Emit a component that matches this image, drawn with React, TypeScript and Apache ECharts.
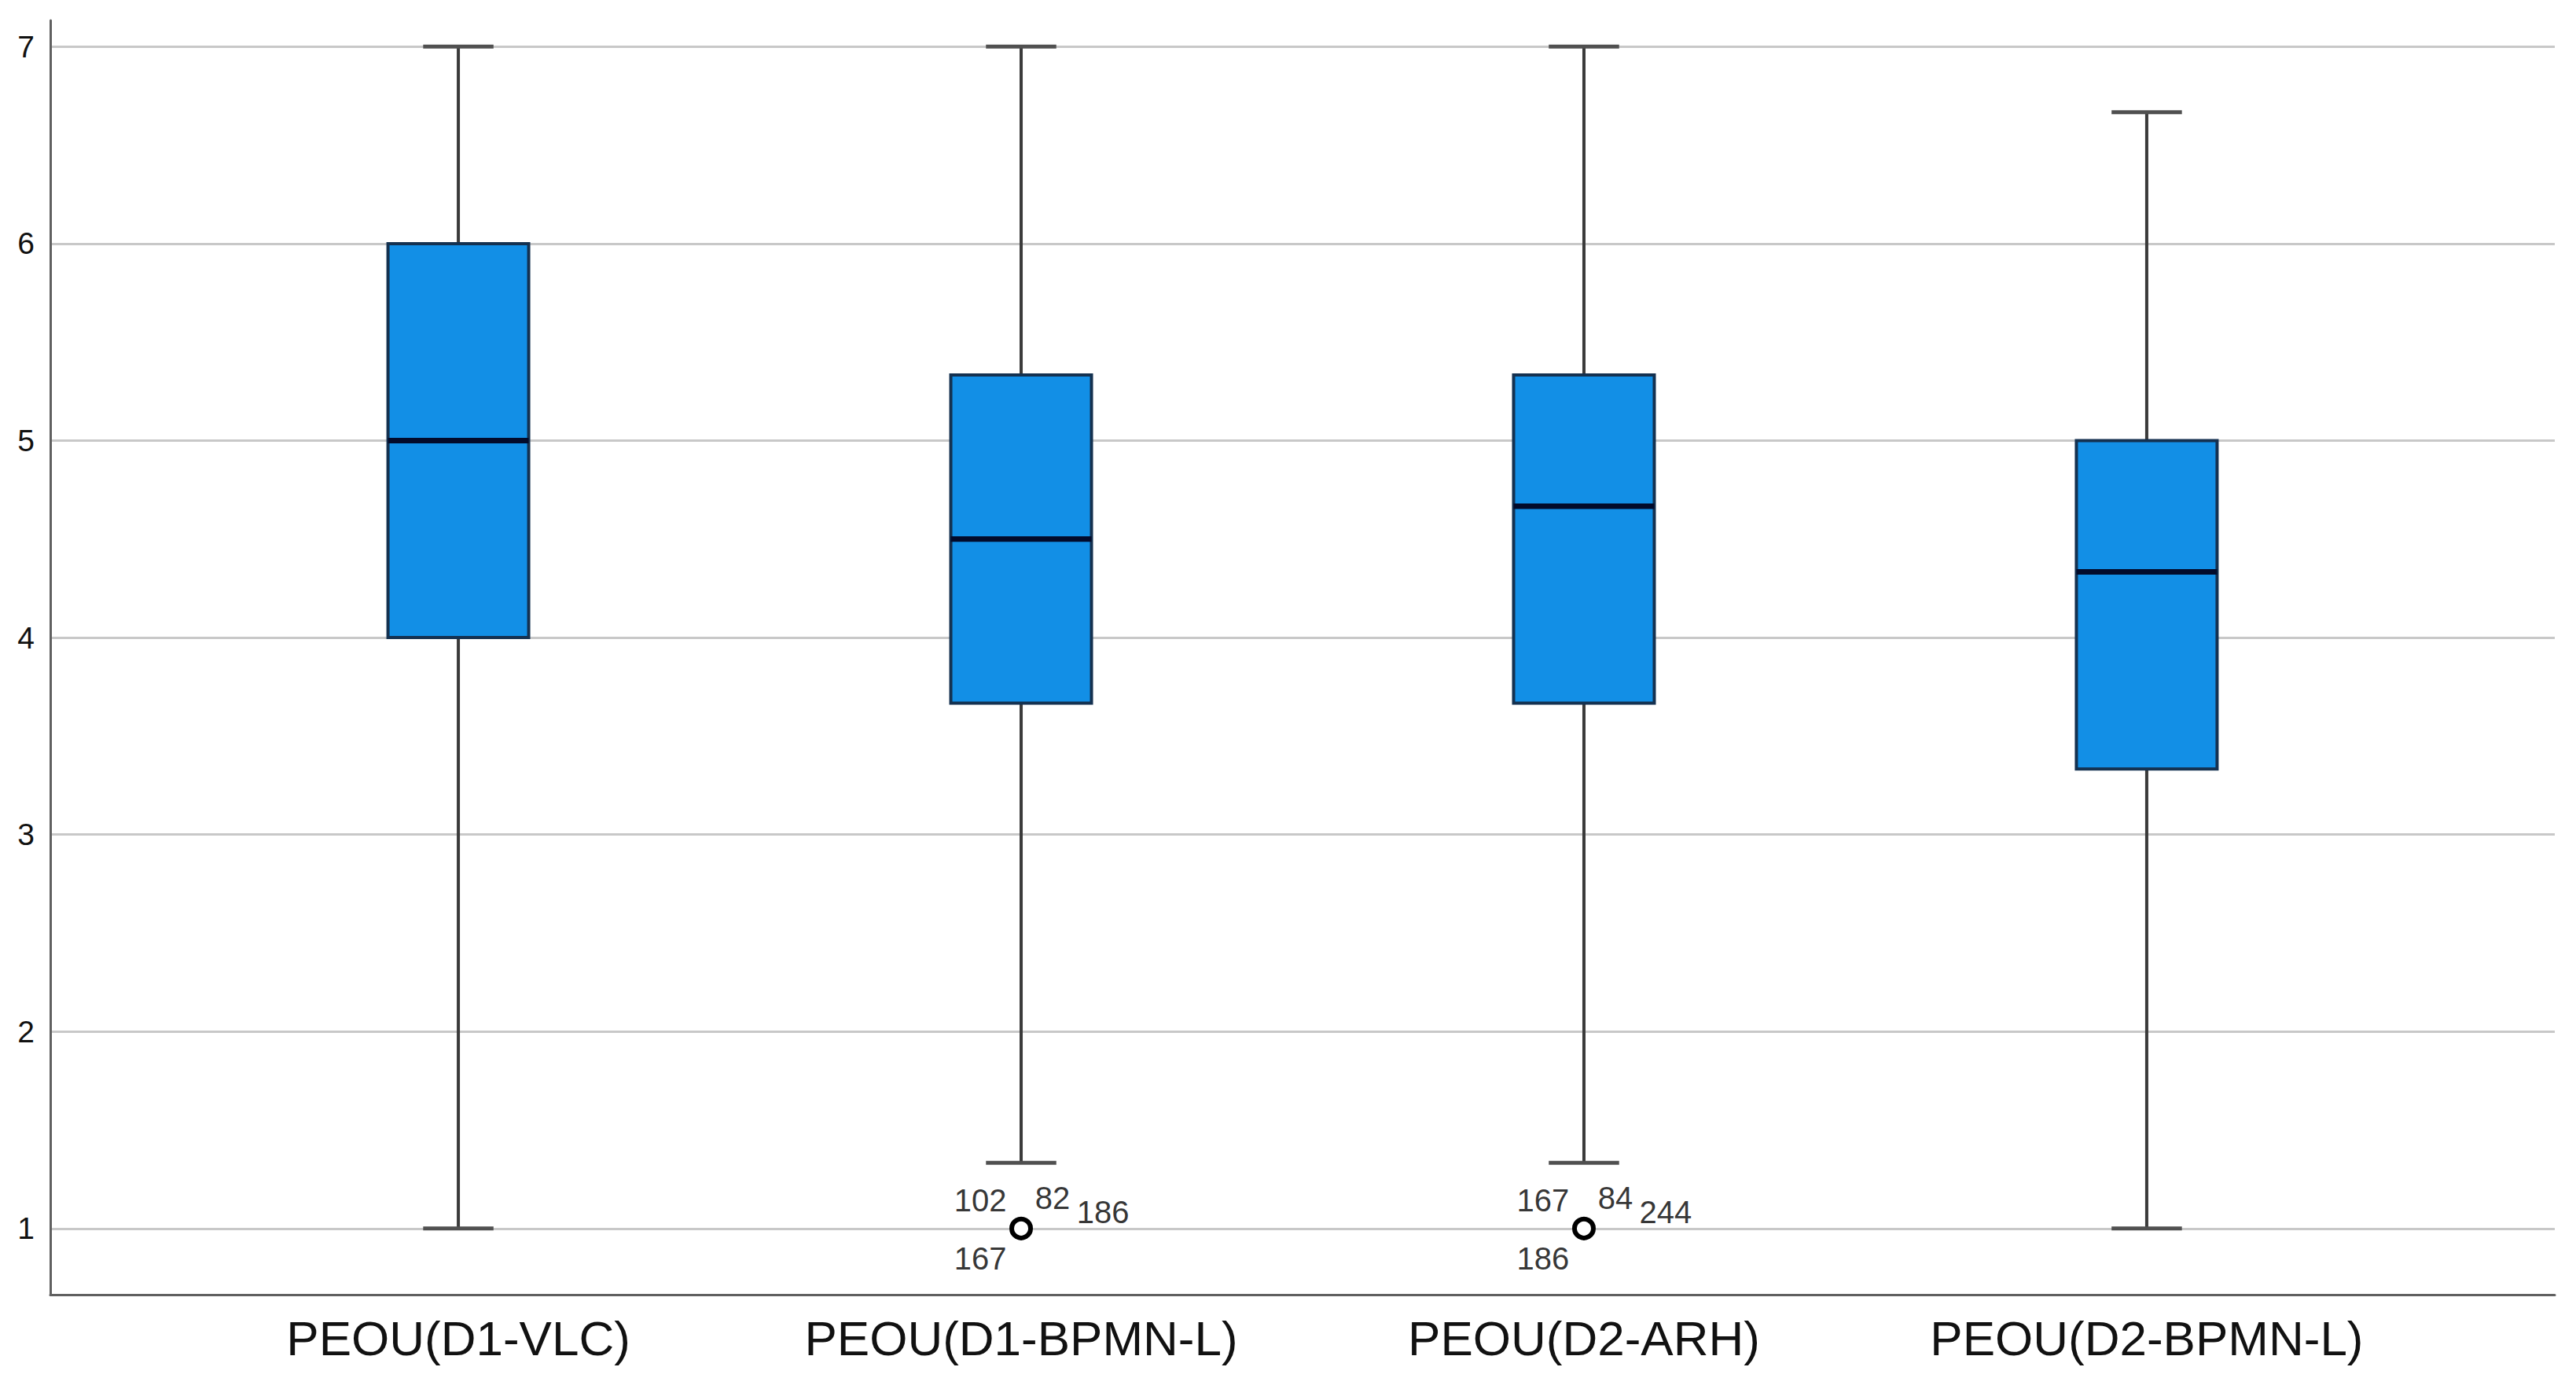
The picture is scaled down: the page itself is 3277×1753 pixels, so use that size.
import React, { useEffect, useRef } from "react";
import * as echarts from "echarts";

// ---- data ----
const categories = ["PEOU(D1-VLC)", "PEOU(D1-BPMN-L)", "PEOU(D2-ARH)", "PEOU(D2-BPMN-L)"];
const whiskerLow = [1, 1.333, 1.333, 1];
const q1 = [4, 3.667, 3.667, 3.333];
const median = [5, 4.5, 4.667, 4.333];
const q3 = [6, 5.333, 5.333, 5];
const whiskerHigh = [7, 7, 7, 6.667];
const outlierCategory = [1, 2];
const outlierValue = [1, 1];
const outlierCaseIds = [
  ["102", "82", "186", "167"],
  ["167", "84", "244", "186"],
];
const yTickValues = [1, 2, 3, 4, 5, 6, 7];
const xTickValues = [0, 1, 2, 3];

// ---- styles ----
const FONT = "'Liberation Sans', Arial, Helvetica, sans-serif";
const labelOffsets = [
  [-52, -36],
  [40, -39],
  [104, -21],
  [-52, 38],
];

export default function App() {
  const ref = useRef<HTMLDivElement>(null);

  useEffect(() => {
    if (!ref.current) return;
    const chart = echarts.init(ref.current, null, { renderer: "svg" });

    const boxData = categories.map((_, i) => [i, whiskerLow[i], q1[i], median[i], q3[i], whiskerHigh[i]]);

    const outlierPoints = outlierCategory.map((c, i) => [c, outlierValue[i]]);
    const outlierLabelPoints: any[] = [];
    outlierCategory.forEach((c, i) => {
      outlierCaseIds[i].forEach((id, k) => {
        outlierLabelPoints.push({
          value: [c, outlierValue[i]],
          label: {
            show: true,
            formatter: id,
            position: "inside",
            offset: labelOffsets[k],
            fontFamily: FONT,
            fontSize: 40,
            color: "#000000",
            textBorderWidth: 0,
          },
        });
      });
    });

    const renderBox = (params: any, api: any) => {
      const x = api.value(0);
      const lo = api.coord([x, api.value(1)]);
      const b1 = api.coord([x, api.value(2)]);
      const md = api.coord([x, api.value(3)]);
      const b3 = api.coord([x, api.value(4)]);
      const hi = api.coord([x, api.value(5)]);
      const band = api.size([1, 0])[0];
      const bw = band * 0.25;
      const cw = bw * 0.5;
      const cx = lo[0];
      const whiskerStyle = { stroke: "#3a3a3a", lineWidth: 4 };
      const capStyle = { stroke: "#505050", lineWidth: 5 };
      return {
        type: "group",
        children: [
          { type: "line", shape: { x1: cx, y1: hi[1], x2: cx, y2: b3[1] }, style: whiskerStyle },
          { type: "line", shape: { x1: cx, y1: b1[1], x2: cx, y2: lo[1] }, style: whiskerStyle },
          { type: "line", shape: { x1: cx - cw / 2, y1: hi[1], x2: cx + cw / 2, y2: hi[1] }, style: capStyle },
          { type: "line", shape: { x1: cx - cw / 2, y1: lo[1], x2: cx + cw / 2, y2: lo[1] }, style: capStyle },
          {
            type: "rect",
            shape: { x: cx - bw / 2, y: b3[1], width: bw, height: b1[1] - b3[1] },
            style: { fill: "#128fe6", stroke: "#143150", lineWidth: 4 },
          },
          {
            type: "line",
            shape: { x1: cx - bw / 2, y1: md[1], x2: cx + bw / 2, y2: md[1] },
            style: { stroke: "#020b2b", lineWidth: 7 },
          },
        ],
      };
    };

    chart.setOption({
      animation: false,
      backgroundColor: "#ffffff",
      grid: { left: 64, right: 27, top: 26, bottom: 106, containLabel: false },
      xAxis: {
        type: "value",
        min: -0.725,
        max: 3.725,
        axisLine: { show: true, onZero: false, lineStyle: { color: "#606060", width: 3 } },
        axisTick: { show: false, customValues: xTickValues },
        splitLine: { show: false },
        axisLabel: {
          customValues: xTickValues,
          formatter: (v: number) => categories[Math.round(v)] ?? "",
          fontFamily: FONT,
          fontSize: 62,
          color: "#111111",
          margin: 24,
        },
      },
      yAxis: {
        type: "value",
        min: 0.664,
        max: 7.133,
        axisLine: { show: true, onZero: false, lineStyle: { color: "#606060", width: 3 } },
        axisTick: { show: false, customValues: yTickValues },
        splitLine: { show: true, lineStyle: { color: "#c8c8c8", width: 3 } },
        axisLabel: {
          customValues: yTickValues,
          fontFamily: FONT,
          fontSize: 39,
          color: "#111111",
          margin: 20,
          padding: [8, 0, 0, 0],
        },
      },
      series: [
        {
          type: "custom",
          name: "PEOU",
          renderItem: renderBox,
          encode: { x: 0, y: [1, 2, 3, 4, 5] },
          data: boxData,
          z: 3,
        },
        {
          type: "scatter",
          name: "outliers",
          data: outlierPoints,
          symbol: "circle",
          symbolSize: 24,
          itemStyle: { color: "#ffffff", borderColor: "#000000", borderWidth: 6, opacity: 1 },
          z: 5,
        },
        {
          type: "scatter",
          name: "outlierLabels",
          data: outlierLabelPoints,
          symbol: "circle",
          symbolSize: 1,
          itemStyle: { color: "rgba(0,0,0,0)" },
          label: { show: true, fontFamily: FONT, fontSize: 40, color: "#000000" },
          z: 6,
        },
      ],
    });

    return () => chart.dispose();
  }, []);

  return (
    <div
      ref={ref}
      style={{ position: "fixed", left: 0, top: 0, width: "3277px", height: "1753px", background: "#fff" }}
    />
  );
}
